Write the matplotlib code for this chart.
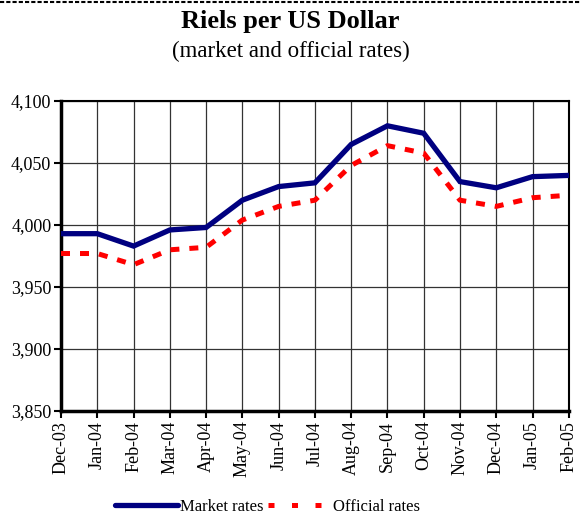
import matplotlib.pyplot as plt
from matplotlib.lines import Line2D

months = ['Dec-03', 'Jan-04', 'Feb-04', 'Mar-04', 'Apr-04', 'May-04', 'Jun-04',
          'Jul-04', 'Aug-04', 'Sep-04', 'Oct-04', 'Nov-04', 'Dec-04', 'Jan-05', 'Feb-05']
market = [3993, 3993, 3983, 3996, 3998, 4020, 4031, 4034, 4065, 4080, 4074, 4035, 4030, 4039, 4040]
official = [3977, 3977, 3968, 3980, 3982, 4004, 4015, 4020, 4048, 4064, 4058, 4020, 4015, 4022, 4024]
yticks = [3850, 3900, 3950, 4000, 4050, 4100]

plt.rcParams['font.family'] = 'Liberation Serif'

fig = plt.figure(figsize=(5.81, 5.18), dpi=100)
ax = fig.add_axes([0.105, 0.2066, 0.874, 0.5984])

x = list(range(len(months)))
ax.plot(x, market, color='#000080', lw=3.8, solid_joinstyle='miter', label='Market rates', zorder=3)
ax.plot(x, official, color='#ff0000', lw=3.6, dashes=(1.8, 2.0), label='Official rates', zorder=3)

ax.set_xlim(0, len(months) - 1)
ax.set_ylim(3850, 4100)
ax.set_xticks(x)
ax.set_xticklabels(months, rotation=90, fontsize=13)
ax.set_yticks(yticks)
ax.set_yticklabels(['{:,}'.format(v) for v in yticks], fontsize=13)
ax.grid(True, color='#333333', lw=0.9)
ax.set_axisbelow(True)

ax.tick_params(axis='both', direction='out', length=5, width=1.5, pad=2)
for s in ['left', 'bottom']:
    ax.spines[s].set_linewidth(2.5)
for s in ['top', 'right']:
    ax.spines[s].set_linewidth(1.5)

fig.text(0.5, 0.958, 'Riels per US Dollar', ha='center', va='center', fontsize=19, fontweight='bold')
fig.text(0.5, 0.9, '(market and official rates)', ha='center', va='center', fontsize=16.5)

# dashed line along the top edge
fig.add_artist(Line2D([0, 1], [0.996, 0.996], color='black', lw=1.5, ls=(0, (2, 1))))

handles = [Line2D([], [], color='#000080', lw=3.8, solid_capstyle='round'),
           Line2D([], [], color='#ff0000', lw=3.6, dashes=(1.2, 3.5))]
fig.legend(handles, ['Market rates', 'Official rates'], loc='center', bbox_to_anchor=(0.46, 0.021),
           ncol=2, frameon=False, fontsize=12, handlelength=3.8, columnspacing=0.3, handletextpad=0.1)

fig.savefig('out.png', dpi=100)
